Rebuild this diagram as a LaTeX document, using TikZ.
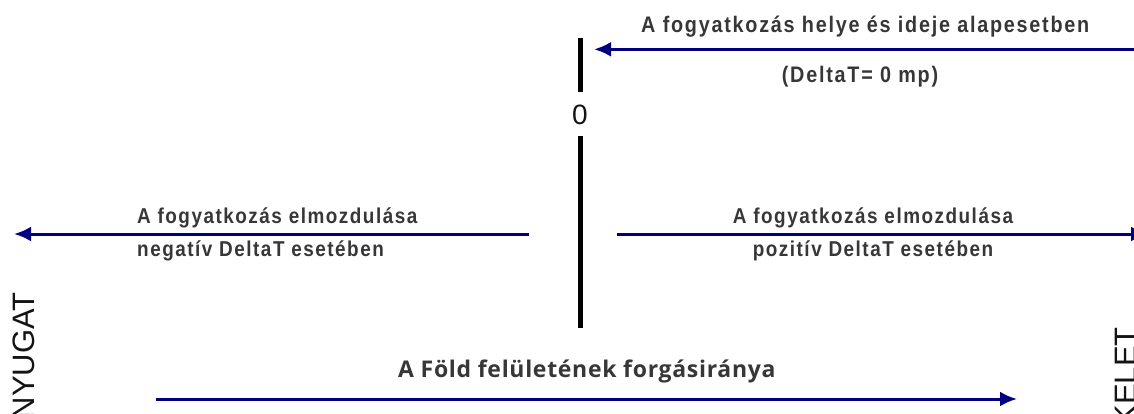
\documentclass[tikz,border=0pt]{standalone}
\usepackage{fontspec}
\setmainfont{Liberation Sans}
\newfontfamily\labfont{Liberation Sans}[LetterSpace=7,FakeStretch=0.88]
\newfontfamily\toplabfont{Liberation Sans}[LetterSpace=7.8,FakeStretch=0.88]
\newfontfamily\earthfont{Open Sans}[LetterSpace=3]
\usetikzlibrary{arrows.meta}
\definecolor{arrowblue}{RGB}{0,0,128}
\definecolor{txtgray}{RGB}{55,55,55}
\definecolor{dirblack}{RGB}{20,20,20}
\begin{document}
\begin{tikzpicture}[x=1pt,y=-1pt,
  lab/.style={inner sep=0pt, text=txtgray, font=\labfont\bfseries\fontsize{21.5}{25}\selectfont},
  toplab/.style={inner sep=0pt, text=txtgray, font=\toplabfont\bfseries\fontsize{22.5}{26}\selectfont},
  dirlab/.style={inner sep=0pt, text=dirblack, rotate=90, anchor=east, font=\fontsize{31}{36}\selectfont},
  arr/.style={draw=arrowblue, line width=3pt, -{Latex[length=17pt,width=15pt]}},
  axis/.style={draw=black, line width=5pt}]
\useasboundingbox (0,0) rectangle (1134,414);
% top
\node[toplab, anchor=base west] (top1) at (641,33) {A fogyatkozás helye és ideje alapesetben};
\node[toplab, anchor=base] (top2) at (860,83) {(DeltaT= 0 mp)};
\coordinate (t0) at (1134,49.3);
\coordinate (t1) at (594,49.3);
\draw[arr] (t0) -- (t1);
% zero axis
\node[inner sep=0pt, text=dirblack, font=\fontsize{28}{32}\selectfont] (zero) at (580,115) {0};
\coordinate (v0) at (580,38);
\coordinate (v1) at (580,92);
\coordinate (v2) at (580,136);
\coordinate (v3) at (580,328);
\draw[axis] (v0) -- (v1);
\draw[axis] (v2) -- (v3);
% middle
\node[lab, anchor=base west] (negA) at (137,223) {A fogyatkozás elmozdulása};
\node[lab, anchor=base west] (negB) at (137,256) {negatív DeltaT esetében};
\node[lab, anchor=base] (posA) at (873,223) {A fogyatkozás elmozdulása};
\node[lab, anchor=base] (posB) at (873,256) {pozitív DeltaT esetében};
\coordinate (l0) at (529,234);
\coordinate (l1) at (14,234);
\coordinate (r0) at (617,234);
\coordinate (r1) at (1148,234);
\draw[arr] (l0) -- (l1);
\draw[arr] (r0) -- (r1);
% bottom
\node[inner sep=0pt, text=txtgray, anchor=base west, font=\earthfont\bfseries\fontsize{23}{28}\selectfont] (earth) at (398,377) {A Föld felületének forgásiránya};
\coordinate (b0) at (156,399);
\coordinate (b1) at (1017,399);
\draw[arr] (b0) -- (b1);
% directions
\node[dirlab] (west) at (24,292) {NYUGAT};
\node[dirlab] (east) at (1126,327) {KELET};
\end{tikzpicture}
\end{document}
